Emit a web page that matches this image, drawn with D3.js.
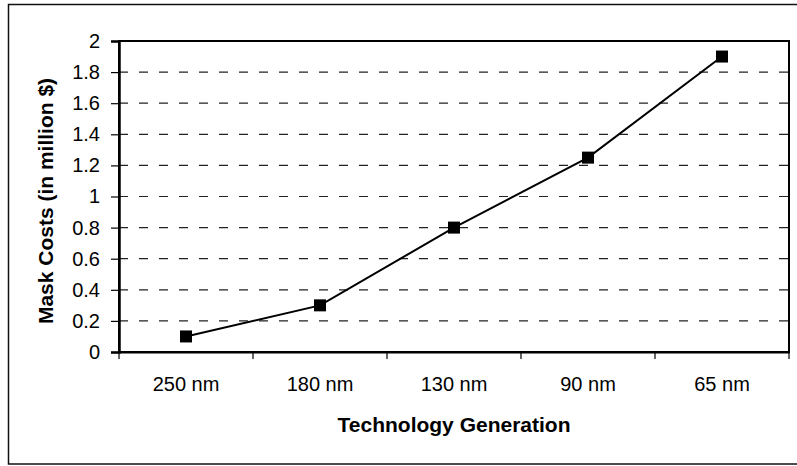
<!DOCTYPE html>
<html>
<head>
<meta charset="utf-8">
<script src="https://cdn.jsdelivr.net/npm/d3@7"></script>
<style>
  html, body { margin: 0; padding: 0; background: #fff; }
  svg { display: block; font-family: 'Liberation Sans', Arial, sans-serif; }
</style>
</head>
<body>
<svg id="chart" width="797" height="466"></svg>
<script>
// data
const generations = ['250 nm', '180 nm', '130 nm', '90 nm', '65 nm']
const maskCosts = [0.1, 0.3, 0.8, 1.25, 1.9]
const yTicks = [0, 0.2, 0.4, 0.6, 0.8, 1, 1.2, 1.4, 1.6, 1.8, 2]

const xTitle = 'Technology Generation'
const yTitle = 'Mask Costs (in million $)'

const plot = { left: 119, right: 789, top: 41, bottom: 352 }

const svg = d3.select('#chart')

// outer chart frame (right side runs past the picture)
svg.append('rect')
  .attr('x', 8.5).attr('y', 4.5)
  .attr('width', 800).attr('height', 459.5)
  .attr('fill', 'none').attr('stroke', '#111').attr('stroke-width', 1.5)

const x = d3.scaleBand()
  .domain(generations)
  .range([plot.left, plot.right])
  .padding(0)

const y = d3.scaleLinear()
  .domain([0, 2])
  .range([plot.bottom, plot.top])

// dashed gridlines
svg.append('g')
  .selectAll('line')
  .data(yTicks.filter(d => d > 0 && d < 2))
  .join('line')
  .attr('x1', plot.left).attr('x2', plot.right)
  .attr('y1', d => y(d)).attr('y2', d => y(d))
  .attr('stroke', '#222').attr('stroke-width', 1.2)
  .attr('stroke-dasharray', '9,11')

// plot area border
svg.append('rect')
  .attr('x', plot.left).attr('y', plot.top)
  .attr('width', plot.right - plot.left).attr('height', plot.bottom - plot.top)
  .attr('fill', 'none').attr('stroke', '#000').attr('stroke-width', 2)

// y axis
const yAxis = svg.append('g')
  .attr('transform', `translate(${plot.left},0)`)
  .call(d3.axisLeft(y)
    .tickValues(yTicks)
    .tickSize(8)
    .tickPadding(11)
    .tickFormat(d => String(+d.toFixed(1))))
yAxis.select('.domain').attr('stroke-width', 2.5)
yAxis.selectAll('.tick line').attr('stroke-width', 1.2)
yAxis.selectAll('text')
  .style('font-size', '20px').attr('fill', '#000')

// x axis: labels centred on bands, ticks at band boundaries
const xAxis = svg.append('g')
  .attr('transform', `translate(0,${plot.bottom})`)
  .call(d3.axisBottom(x).tickSize(0).tickPadding(25))
xAxis.select('.domain').attr('stroke-width', 2)
xAxis.selectAll('text')
  .style('font-size', '20px').attr('fill', '#000')

const boundaries = generations.map(g => x(g)).concat([plot.right])
xAxis.selectAll('.bound')
  .data(boundaries)
  .join('line')
  .attr('class', 'bound')
  .attr('x1', d => d).attr('x2', d => d)
  .attr('y1', 0).attr('y2', 7)
  .attr('stroke', '#000').attr('stroke-width', 1.2)

// axis titles
svg.append('text')
  .attr('x', (plot.left + plot.right) / 2)
  .attr('y', 432)
  .attr('text-anchor', 'middle')
  .style('font-size', '21px').style('font-weight', 'bold')
  .text(xTitle)

svg.append('text')
  .attr('transform', 'translate(53,201) rotate(-90)')
  .attr('text-anchor', 'middle')
  .style('font-size', '21px').style('font-weight', 'bold')
  .text(yTitle)

// series line + square markers
const cx = d => x(d) + x.bandwidth() / 2
const points = generations.map((g, i) => ({ g, v: maskCosts[i] }))

svg.append('path')
  .datum(points)
  .attr('fill', 'none')
  .attr('stroke', '#000').attr('stroke-width', 2)
  .attr('d', d3.line().x(d => cx(d.g)).y(d => y(d.v)))

const M = 12
svg.append('g')
  .selectAll('rect')
  .data(points)
  .join('rect')
  .attr('x', d => cx(d.g) - M / 2)
  .attr('y', d => y(d.v) - M / 2)
  .attr('width', M).attr('height', M)
  .attr('fill', '#000')
</script>
</body>
</html>
